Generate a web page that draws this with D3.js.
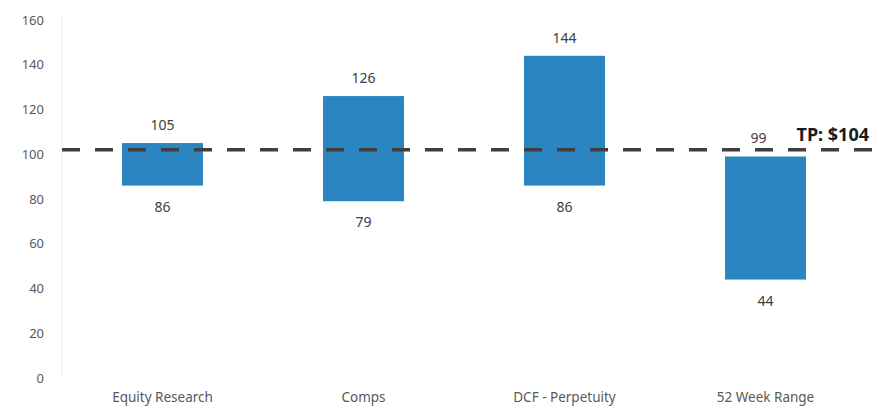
<!DOCTYPE html>
<html>
<head>
<meta charset="utf-8">
<script src="https://cdn.jsdelivr.net/npm/d3@7"></script>
<style>
  body { margin: 0; background: #fff; }
  text { font-family: "Noto Sans", "Open Sans", sans-serif; }
</style>
</head>
<body>
<div id="chart"></div>
<script>
// Valuation ranges (football field)
const categories = ["Equity Research", "Comps", "DCF - Perpetuity", "52 Week Range"];
const lows = [86, 79, 86, 44];
const highs = [105, 126, 144, 99];
const yTicks = [0, 20, 40, 60, 80, 100, 120, 140, 160];
const targetLine = 102;
const targetLabel = "TP: $104";

const width = 878;
const height = 415;

const svg = d3.select("#chart").append("svg")
    .attr("width", width)
    .attr("height", height);

const x = d3.scaleBand()
    .domain(categories)
    .range([62, 866])
    .paddingInner(0.597)
    .paddingOuter(0.2985);

const y = d3.scaleLinear()
    .domain([0, 160])
    .range([378, 20]);

// faint vertical axis line
svg.append("line")
    .attr("x1", 62).attr("x2", 62)
    .attr("y1", y(160) - 5).attr("y2", y(0))
    .attr("stroke", "#eeeeee")
    .attr("stroke-width", 1);

// y axis labels
const yAxis = svg.append("g")
    .attr("transform", "translate(44,0)")
    .call(d3.axisLeft(y).tickValues(yTicks).tickSize(0).tickPadding(0));
yAxis.select(".domain").remove();
yAxis.selectAll("text")
    .attr("fill", "#595959")
    .style("font-size", "13px");

// x axis labels
const xAxis = svg.append("g")
    .attr("transform", "translate(0,392)")
    .call(d3.axisBottom(x).tickSize(0).tickPadding(0));
xAxis.select(".domain").remove();
xAxis.selectAll("text")
    .attr("fill", "#595959")
    .style("font-size", "13.5px");

const rows = categories.map((c, i) => ({ cat: c, low: lows[i], high: highs[i] }));

// bars
svg.append("g")
    .selectAll("rect")
    .data(rows)
    .join("rect")
    .attr("x", d => x(d.cat))
    .attr("y", d => y(d.high))
    .attr("width", x.bandwidth())
    .attr("height", d => y(d.low) - y(d.high))
    .attr("fill", "#2a85c0");

// target price dashed line
svg.append("line")
    .attr("x1", 62).attr("x2", width)
    .attr("y1", y(targetLine)).attr("y2", y(targetLine))
    .attr("stroke", "#3f3f3f")
    .attr("stroke-width", 3.5)
    .attr("stroke-dasharray", "18,15");

// value labels
svg.append("g")
    .selectAll("text")
    .data(rows)
    .join("text")
    .attr("x", (d, i) => x(d.cat) + x.bandwidth() / 2 - (i === 3 ? 7 : 0))
    .attr("y", d => y(d.high) - 13)
    .attr("text-anchor", "middle")
    .attr("fill", "#404040")
    .style("font-size", "14px")
    .text(d => d.high);

svg.append("g")
    .selectAll("text")
    .data(rows)
    .join("text")
    .attr("x", d => x(d.cat) + x.bandwidth() / 2)
    .attr("y", d => y(d.low) + 26)
    .attr("text-anchor", "middle")
    .attr("fill", "#404040")
    .style("font-size", "14px")
    .text(d => d.low);

svg.append("text")
    .attr("x", 869)
    .attr("y", y(targetLine) - 9)
    .attr("text-anchor", "end")
    .attr("fill", "#1a1a1a")
    .style("font-size", "18px")
    .style("font-weight", "bold")
    .text(targetLabel);
</script>
</body>
</html>
